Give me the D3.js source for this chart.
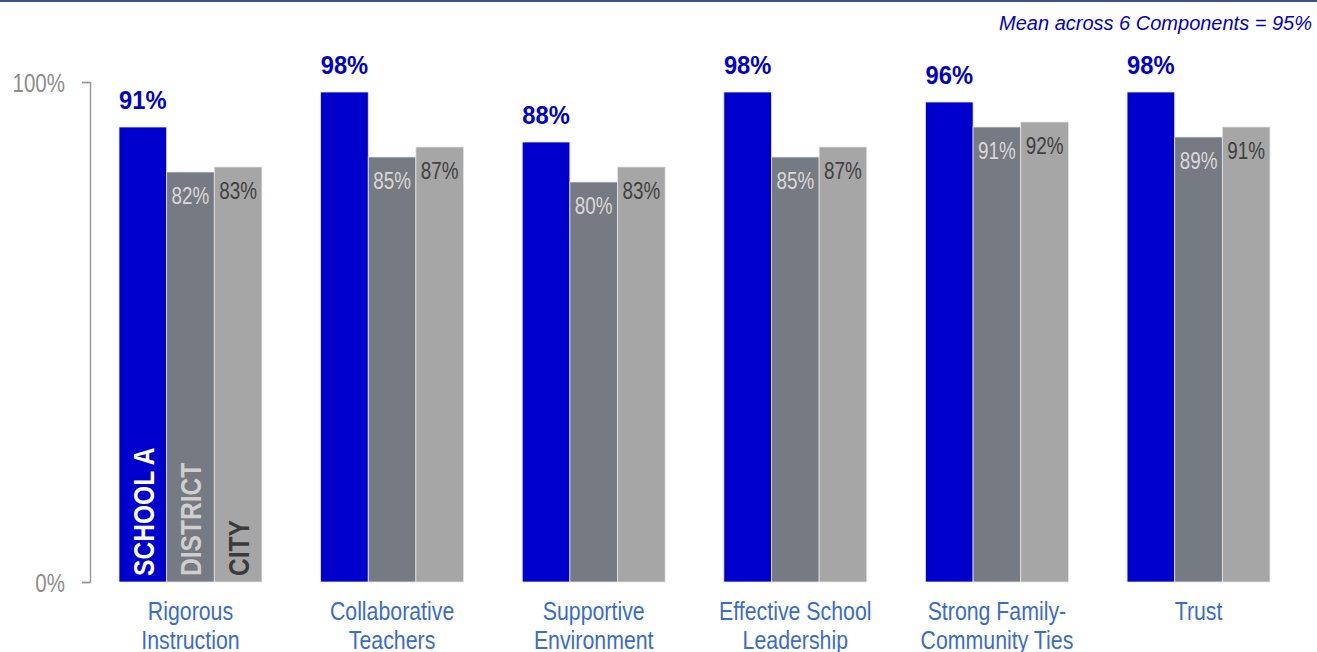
<!DOCTYPE html>
<html>
<head>
<meta charset="utf-8">
<script src="https://cdn.jsdelivr.net/npm/d3@7"></script>
<style>
  body { margin: 0; background: #fff; }
  svg { display: block; }
  text { font-family: "Liberation Sans", Arial, sans-serif; }
</style>
</head>
<body>
<svg id="chart" width="1317" height="652"></svg>
<script>
// data
const categories = [
  ["Rigorous", "Instruction"],
  ["Collaborative", "Teachers"],
  ["Supportive", "Environment"],
  ["Effective School", "Leadership"],
  ["Strong Family-", "Community Ties"],
  ["Trust"]
];
const seriesNames = ["SCHOOL A", "DISTRICT", "CITY"];
const schoolValues = [91, 98, 88, 98, 96, 98];
const districtValues = [82, 85, 80, 85, 91, 89];
const cityValues = [83, 87, 83, 87, 92, 91];
const yTicks = [0, 100];
const meanLabel = "Mean across 6 Components = 95%";

const colors = ["#0000cc", "#767a82", "#a6a6a6"];
const innerText = [null, "#d9d9d9", "#404040"];
const legendText = ["#ffffff", "#cfcfcf", "#3a3a3a"];
const NARROW = 0.82; // no Arial Narrow installed, squeeze Liberation Sans instead

const svg = d3.select("#chart");
const W = 1317;

// top rule
svg.append("rect").attr("x", 0).attr("y", 0).attr("width", W).attr("height", 2)
  .attr("fill", "#3d5580");

svg.append("text")
  .attr("x", 1312).attr("y", 30)
  .attr("text-anchor", "end")
  .attr("font-style", "italic")
  .attr("font-size", 20)
  .attr("fill", "#0000cc")
  .text(meanLabel);

const y = d3.scaleLinear().domain([0, 100]).range([582, 82]);

const x0 = d3.scaleBand()
  .domain(d3.range(categories.length))
  .range([119, 1270])
  .paddingInner(0.291)
  .paddingOuter(0);

const x1 = d3.scaleBand()
  .domain(d3.range(seriesNames.length))
  .range([0, x0.bandwidth()]);

// y axis
const axis = d3.axisLeft(y).tickValues(yTicks).tickSize(8).tickFormat(d => d + "%");
const ag = svg.append("g").attr("transform", "translate(90,0)").call(axis);
ag.select(".domain").attr("stroke", "#9a9a9a").attr("stroke-width", 1.5);
ag.selectAll(".tick line").attr("stroke", "#9a9a9a").attr("stroke-width", 1.5);
ag.selectAll(".tick text")
  .attr("x", null)
  .attr("transform", `translate(-25,0) scale(${NARROW},1)`)
  .attr("dy", "0.36em")
  .attr("font-size", 25)
  .attr("font-family", "Liberation Sans, Arial, sans-serif")
  .attr("fill", "#8c8c8c");

const rows = categories.map((c, i) => [schoolValues[i], districtValues[i], cityValues[i]]);

const groups = svg.append("g").selectAll("g")
  .data(rows)
  .join("g")
  .attr("transform", (d, i) => `translate(${x0(i)},0)`);

groups.selectAll("rect")
  .data(d => d)
  .join("rect")
  .attr("x", (d, j) => x1(j))
  .attr("y", d => y(d))
  .attr("width", x1.bandwidth())
  .attr("height", d => y(0) - y(d))
  .attr("fill", (d, j) => colors[j])
  .attr("stroke", "#e4e4e4")
  .attr("stroke-width", 0.8);

// value labels
groups.selectAll("text.val")
  .data(d => d)
  .join("text")
  .attr("class", "val")
  .attr("transform", (d, j) => {
    const cx = x1(j) + x1.bandwidth() / 2;
    return j === 0 ? `translate(${cx},${y(d) - 18}) scale(0.95,1)`
                   : `translate(${cx},${y(d) + 32}) scale(${NARROW},1)`;
  })
  .attr("text-anchor", "middle")
  .attr("font-weight", (d, j) => j === 0 ? "bold" : "normal")
  .attr("font-size", (d, j) => j === 0 ? 25 : 23)
  .attr("fill", (d, j) => j === 0 ? colors[0] : innerText[j])
  .text(d => d + "%");

// series names written up the first group's bars
svg.append("g").selectAll("text")
  .data(seriesNames)
  .join("text")
  .attr("transform", (d, j) => `translate(${x0(0) + x1(j) + x1.bandwidth() / 2 + 11},${y(0) - 6}) rotate(-90) scale(${NARROW},1)`)
  .attr("font-weight", "bold")
  .attr("font-size", 30)
  .attr("fill", (d, j) => legendText[j])
  .text(d => d);

// category labels
const cat = svg.append("g").selectAll("text")
  .data(categories)
  .join("text")
  .attr("transform", (d, i) => `translate(${x0(i) + x0.bandwidth() / 2},620) scale(${NARROW},1)`)
  .attr("text-anchor", "middle")
  .attr("font-size", 26)
  .attr("fill", "#3a6cc8");

cat.selectAll("tspan")
  .data(d => d)
  .join("tspan")
  .attr("x", 0)
  .attr("dy", (d, k) => k === 0 ? 0 : 29)
  .text(d => d);
</script>
</body>
</html>
